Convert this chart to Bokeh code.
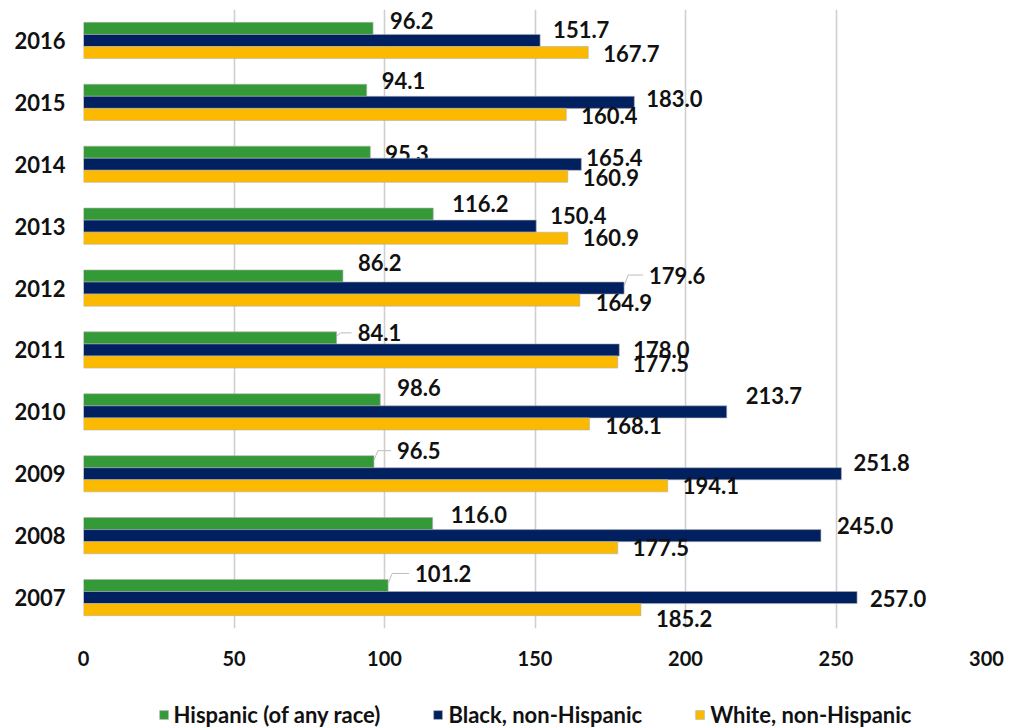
from bokeh.plotting import figure
from bokeh.layouts import column
from bokeh.models import ColumnDataSource, Legend, LegendItem, FixedTicker, Range1d
from bokeh.core.properties import value
from bokeh.embed import file_html
from bokeh.resources import INLINE

# Rates by year, listed top row first
years = ["2016", "2015", "2014", "2013", "2012", "2011", "2010", "2009", "2008", "2007"]
hispanic = [96.2, 94.1, 95.3, 116.2, 86.2, 84.1, 98.6, 96.5, 116.0, 101.2]
black = [151.7, 183.0, 165.4, 150.4, 179.6, 178.0, 213.7, 251.8, 245.0, 257.0]
white = [167.7, 160.4, 160.9, 160.9, 164.9, 177.5, 168.1, 194.1, 177.5, 185.2]
x_ticks = [0, 50, 100, 150, 200, 250, 300]

series_names = ["Hispanic (of any race)", "Black, non-Hispanic", "White, non-Hispanic"]
colors = ["#349A37", "#012060", "#FBBA00"]

# Hand-placed label nudges (screen pixels) so the value labels don't collide
label_dx = [
    [17, 15, 15, 19, 15, 21, 17, 23, 18, 27],
    [13, 12, 5, 14, 25, 14, 19, 12, 16, 13],
    [15, 15, 15, 15, 16, 15, 16, 15, 15, 15],
]
label_dy = [
    [-8, -10, 1, -11, -13, -5, -12, -11, -9, -12],
    [-11, -4, -7, -11, -13, 0, -16, -11, -10, 1],
    [1, 1, 1, -1, 2, 1, 2, 0, 0, 9],
]
# Labels that get a small leader line back to their bar
leaders = [
    [False, False, False, False, False, True, False, True, False, True],
    [False, False, False, False, True, False, False, False, False, False],
    [False] * 10,
]

FONT = "Lato"
BAR_H = 0.195
BORDER_L, BORDER_R, BORDER_T, BORDER_B = 83, 24, 9, 60
FIG_W, FIG_H = 1010, 688
LEGEND_H = 40
PX_X = (FIG_W - BORDER_L - BORDER_R) / 300.0            # pixels per x unit
PX_Y = (FIG_H - BORDER_T - BORDER_B) / float(len(years))  # pixels per row

p = figure(
    width=FIG_W, height=FIG_H,
    x_range=Range1d(0, 300), y_range=Range1d(-0.5, 9.5),
    output_backend="svg", toolbar_location=None,
    min_border_left=BORDER_L, min_border_right=BORDER_R,
    min_border_top=BORDER_T, min_border_bottom=BORDER_B,
)
p.outline_line_color = None
p.background_fill_color = "white"
p.border_fill_color = "white"

rows = [9 - i for i in range(len(years))]
offsets = [BAR_H, 0.0, -BAR_H]
all_vals = [hispanic, black, white]

for k, vals in enumerate(all_vals):
    ys = [r + offsets[k] for r in rows]
    src = ColumnDataSource(dict(y=ys, v=vals))
    p.hbar(y="y", left=0, right="v", height=BAR_H, source=src,
           fill_color=colors[k], line_color="#b0b0b0", line_width=0.6)

    lab = ColumnDataSource(dict(
        x=vals, y=ys, t=[f"{v:.1f}" for v in vals],
        dx=label_dx[k], dy=label_dy[k],
    ))
    p.text(x="x", y="y", text="t", source=lab, x_offset="dx", y_offset="dy",
           text_font=value(FONT), text_font_style="bold", text_font_size="22px",
           text_color="#111111", text_align="left", text_baseline="middle")

    lx, ly = [], []
    for i, v in enumerate(vals):
        if leaders[k][i]:
            yc = ys[i]
            ye = yc - label_dy[k][i] / PX_Y
            lx.append([v, v + 4 / PX_X, v + (label_dx[k][i] - 6) / PX_X])
            ly.append([yc + 0.03, ye, ye])
    if lx:
        p.multi_line(xs=lx, ys=ly, line_color="#bdbdbd", line_width=1)

# Axes
p.xaxis.ticker = FixedTicker(ticks=x_ticks)
p.yaxis.ticker = FixedTicker(ticks=rows)
p.yaxis.major_label_overrides = {r: y for r, y in zip(rows, years)}
for ax in (p.xaxis[0], p.yaxis[0]):
    ax.axis_line_color = None
    ax.major_tick_line_color = None
    ax.minor_tick_line_color = None
    ax.major_tick_out = 0
    ax.major_tick_in = 0
    ax.major_label_text_font = FONT
    ax.major_label_text_font_style = "bold"
    ax.major_label_text_color = "#111111"
p.xaxis.major_label_text_font_size = "20px"
p.yaxis.major_label_text_font_size = "22px"
p.xaxis.major_label_standoff = 22
p.yaxis.major_label_standoff = 18

p.xgrid.grid_line_color = "#cfcfcf"
p.xgrid.grid_line_width = 1.6
p.ygrid.grid_line_color = None

# Legend strip under the chart: swatch renderers carry the series styling
# (their single bar sits outside the strip's visible range)
leg = figure(
    width=FIG_W, height=LEGEND_H,
    x_range=Range1d(0, 1), y_range=Range1d(0, 1),
    output_backend="svg", toolbar_location=None,
    x_axis_location=None, y_axis_location=None,
    min_border=0, min_border_left=0, min_border_right=0,
    min_border_top=0, min_border_bottom=0,
)
leg.outline_line_color = None
leg.xgrid.grid_line_color = None
leg.ygrid.grid_line_color = None
swatches = [
    leg.hbar(y=[-10], left=[0], right=[1], height=0.1, fill_color=c,
             line_color="#b0b0b0", line_width=0.6)
    for c in colors
]
legend = Legend(
    items=[LegendItem(label=n, renderers=[r]) for n, r in zip(series_names, swatches)],
    orientation="horizontal", location="bottom_center",
    label_text_font=FONT, label_text_font_style="bold", label_text_font_size="22px",
    label_text_color="#111111", label_height=22,
    glyph_width=11, glyph_height=11, label_standoff=5, spacing=52,
    border_line_color=None, background_fill_alpha=0, padding=6, margin=0,
)
leg.add_layout(legend, "center")

layout = column(p, leg, spacing=0)
open("out.html", "w").write(file_html(layout, INLINE))
